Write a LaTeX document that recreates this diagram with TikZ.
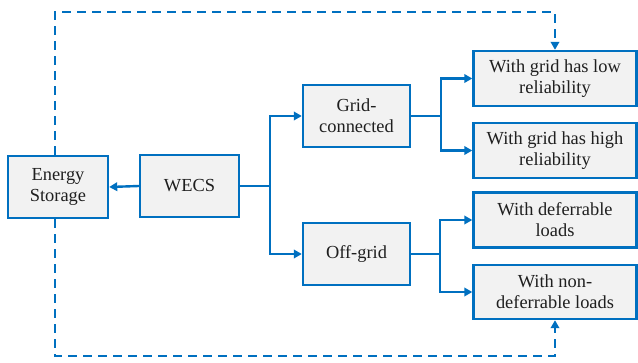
\documentclass[tikz,border=0pt]{standalone}
\usepackage{fontspec}
\setmainfont{Liberation Serif}
\usetikzlibrary{arrows.meta}
\definecolor{lineblue}{RGB}{0,112,192}
\definecolor{boxgray}{RGB}{242,242,242}
\begin{document}
\begin{tikzpicture}[x=1pt,y=-1pt,
  box/.style={draw=lineblue,fill=boxgray,line width=2.4pt,align=center,inner sep=0pt,
    font=\fontsize{18.4}{21}\selectfont,text=black!88},
  line/.style={draw=lineblue,line width=2.4pt},
  conn/.style={line,-{Triangle[length=8pt,width=8.5pt]}},
  dconn/.style={conn,dash pattern=on 9pt off 6pt}]
\useasboundingbox (0,0) rectangle (638,362);
\node[box,minimum width=100pt,minimum height=62pt] (es) at (58,187) {Energy\\Storage};
\node[box,minimum width=99pt,minimum height=62pt] (wecs) at (189.5,186) {WECS};
\node[box,minimum width=107pt,minimum height=62pt] (gc) at (356.5,116) {Grid-\\connected};
\node[box,minimum width=107pt,minimum height=62pt] (og) at (356.5,254) {Off-grid};
\node[box,minimum width=163pt,minimum height=55pt] (r1) at (555,78.5) {With grid has low\\reliability};
\node[box,minimum width=163pt,minimum height=55pt] (r2) at (555,150.5) {With grid has high\\reliability};
\node[box,minimum width=163pt,minimum height=55pt] (r3) at (555,220) {With deferrable\\loads};
\node[box,minimum width=163pt,minimum height=54pt] (r4) at (555,292) {With non-\\deferrable loads};
\coordinate (j1) at (270,186);
\coordinate (j2) at (441,116);
\coordinate (j3) at (440,254);
\coordinate (t1) at (55,12);
\coordinate (t2) at (555,12);
\coordinate (b1) at (55,356);
\coordinate (b2) at (555,356);
\draw[conn] (wecs.west) -- (es.east);
\draw[line] (wecs.east) -- (j1);
\draw[conn] (j1) |- (gc.west);
\draw[conn] (j1) |- (og.west);
\draw[line] (gc.east) -- (j2);
\draw[conn] (j2) |- (r1.west);
\draw[conn] (j2) |- (r2.west);
\draw[line] (og.east) -- (j3);
\draw[conn] (j3) |- (r3.west);
\draw[conn] (j3) |- (r4.west);
\draw[dconn] (es.north -| t1) -- (t1) -- (t2) -- (t2 |- r1.north);
\draw[dconn] (es.south -| b1) -- (b1) -- (b2) -- (b2 |- r4.south);
\end{tikzpicture}
\end{document}
